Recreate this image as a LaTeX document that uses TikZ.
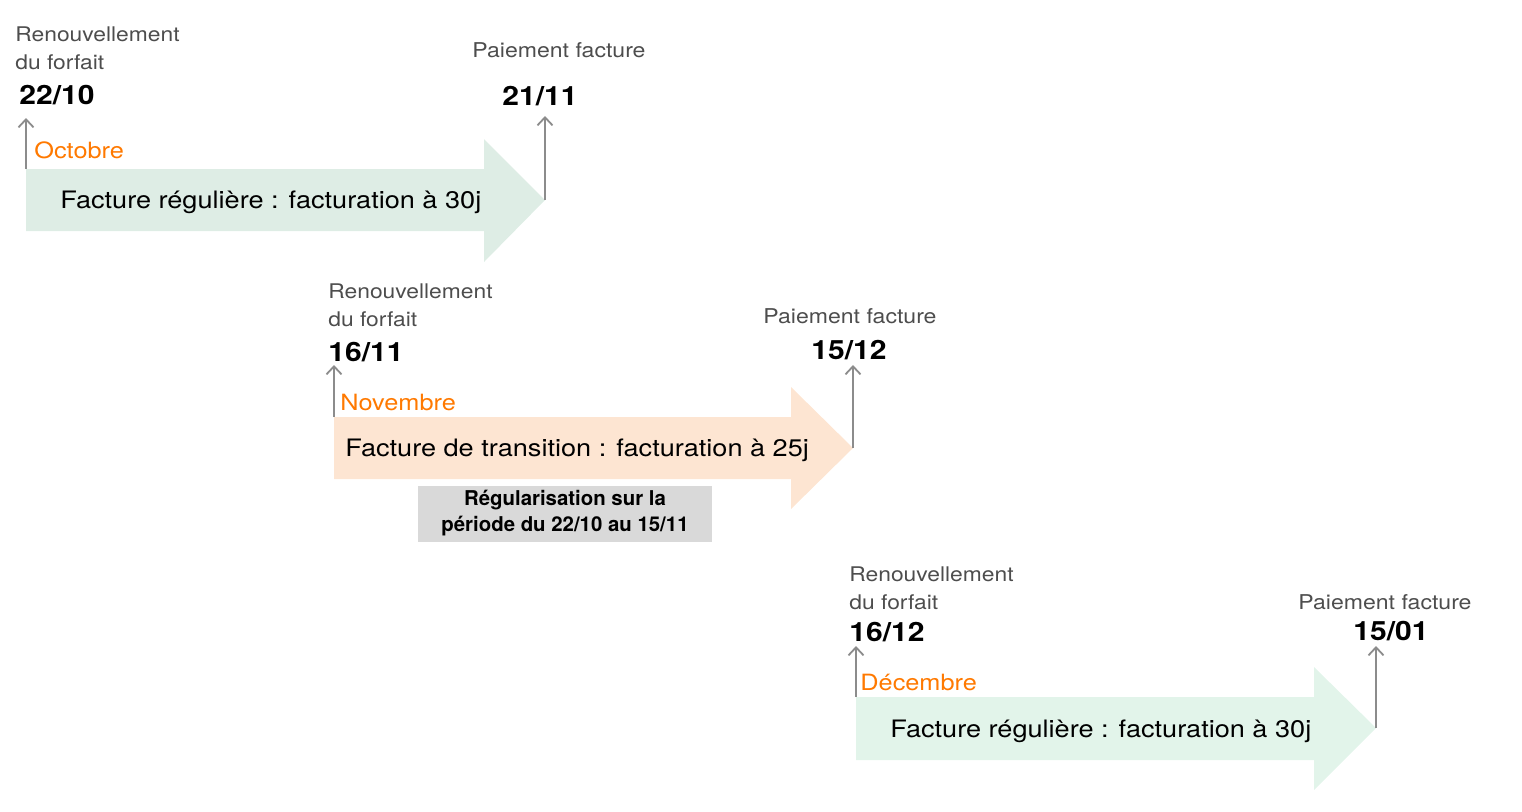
\documentclass[tikz,border=0pt]{standalone}
\usepackage{fontspec}
\setmainfont[FakeStretch=1.13]{TeX Gyre Heros}
\newfontfamily\boitefont{TeX Gyre Heros}
\usetikzlibrary{arrows.meta}

\definecolor{vertpale}{HTML}{DEEDE5}
\definecolor{vertclair}{HTML}{E2F4EA}
\definecolor{peche}{HTML}{FDE5D2}
\definecolor{orangetxt}{HTML}{FF7900}
\definecolor{grislabel}{HTML}{4D4D4D}
\definecolor{grisfleche}{HTML}{8C8C8C}
\definecolor{grisboite}{HTML}{D9D9D9}

\tikzset{
  renouv/.style={text=grislabel,font=\fontsize{10.1}{14}\selectfont,inner sep=0pt,align=left,anchor=base west},
  paie/.style={text=grislabel,font=\fontsize{10.2}{14}\selectfont,inner sep=0pt,anchor=base},
  date/.style={font=\fontsize{13.3}{16}\selectfont\bfseries,inner sep=0pt},
  mois/.style={text=orangetxt,font=\fontsize{11.2}{14}\selectfont,inner sep=0pt,anchor=base west},
  titre/.style={font=\fontsize{12}{15}\selectfont,inner sep=0pt,anchor=base west},
  fleche/.style={grisfleche,line width=0.9pt,-{Straight Barb[length=4pt,width=7.5pt]}},
}

\begin{document}
\begin{tikzpicture}[x=0.5pt,y=-0.5pt]
	\useasboundingbox (0,0) rectangle (1522,811);
	% octobre
	\fill[vertpale] (26,169) -- (484,169) -- (484,139) -- (545,200) -- (484,262) -- (484,231) -- (26,231) -- cycle;
	\node[titre] (t1) at (60,208) {Facture régulière : facturation à 30j};
	\node[mois] (m1) at (34,158) {Octobre};
	\node[renouv] (r1) at (15,69) {Renouvellement\\du forfait};
	\node[date,anchor=base west] (d1) at (19,104) {22/10};
	\node[paie] (p1) at (559,57) {Paiement facture};
	\node[date,anchor=base] (e1) at (540,105) {21/11};
	\coordinate (a1) at (26,169);
	\coordinate (a1h) at (26,118);
	\coordinate (b1) at (545,200);
	\coordinate (b1h) at (545,116);
	\draw[fleche] (a1) -- (a1h);
	\draw[fleche] (b1) -- (b1h);
	% novembre
	\fill[peche] (334,417) -- (791,417) -- (791,387) -- (853,448) -- (791,509) -- (791,479) -- (334,479) -- cycle;
	\node[titre] (t2) at (345,456) {Facture de transition : facturation à 25j};
	\node[mois] (m2) at (340,410) {Novembre};
	\node[renouv] (r2) at (328,326) {Renouvellement\\du forfait};
	\node[date,anchor=base west] (d2) at (328,361) {16/11};
	\node[paie] (p2) at (850,323) {Paiement facture};
	\node[date,anchor=base] (e2) at (849,359) {15/12};
	\coordinate (a2) at (334,417);
	\coordinate (a2h) at (334,365);
	\coordinate (b2) at (853,448);
	\coordinate (b2h) at (853,365);
	\draw[fleche] (a2) -- (a2h);
	\draw[fleche] (b2) -- (b2h);
	% regularisation
	\node[fill=grisboite,minimum width=147pt,minimum height=28pt,inner sep=0pt,align=center,
	  font=\boitefont\fontsize{10.2}{13}\selectfont\bfseries] (reg) at (565,513.5)
	  {Régularisation sur la\\période du 22/10 au 15/11};
	% decembre
	\fill[vertclair] (856,697) -- (1314,697) -- (1314,667) -- (1376,728) -- (1314,790) -- (1314,760) -- (856,760) -- cycle;
	\node[titre] (t3) at (890,737) {Facture régulière : facturation à 30j};
	\node[mois] (m3) at (860,690) {Décembre};
	\node[renouv] (r3) at (849,609) {Renouvellement\\du forfait};
	\node[date,anchor=base west] (d3) at (849,641) {16/12};
	\node[paie] (p3) at (1385,609) {Paiement facture};
	\node[date,anchor=base] (e3) at (1391,640) {15/01};
	\coordinate (a3) at (856,697);
	\coordinate (a3h) at (856,646);
	\coordinate (b3) at (1376,728);
	\coordinate (b3h) at (1376,646);
	\draw[fleche] (a3) -- (a3h);
	\draw[fleche] (b3) -- (b3h);
\end{tikzpicture}
\end{document}
